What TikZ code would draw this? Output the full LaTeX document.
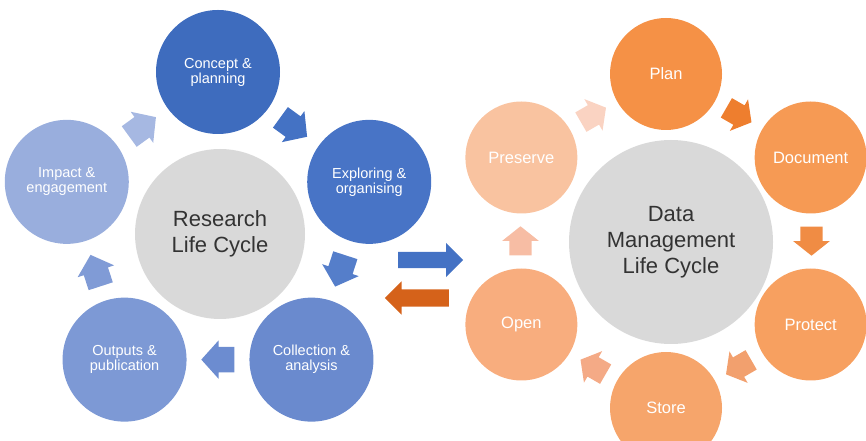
\documentclass[tikz,border=0pt]{standalone}
\usepackage{fontspec}
\setmainfont{Liberation Sans}
\usetikzlibrary{shapes.arrows}

\definecolor{hubgray}{HTML}{D9D9D9}
\definecolor{hubtext}{HTML}{333333}
% research cycle blues
\definecolor{rb1}{HTML}{3E6CBE}
\definecolor{rb2}{HTML}{4874C6}
\definecolor{rb3}{HTML}{6A8ACE}
\definecolor{rb4}{HTML}{7D99D5}
\definecolor{rb5}{HTML}{99AEDD}
\definecolor{ra1}{HTML}{4472C4}
\definecolor{ra2}{HTML}{557ECA}
\definecolor{ra3}{HTML}{6C8CD0}
\definecolor{ra4}{HTML}{809BD6}
\definecolor{ra5}{HTML}{A6B8E2}
% data management oranges
\definecolor{do1}{HTML}{F59146}
\definecolor{do2}{HTML}{F69A54}
\definecolor{do3}{HTML}{F7A060}
\definecolor{do4}{HTML}{F6A56B}
\definecolor{do5}{HTML}{F8AD7E}
\definecolor{do6}{HTML}{F9C3A0}
\definecolor{da1}{HTML}{EE7E2E}
\definecolor{da2}{HTML}{F08C44}
\definecolor{da3}{HTML}{F2A06E}
\definecolor{da4}{HTML}{F4AA86}
\definecolor{da5}{HTML}{F7BDA4}
\definecolor{da6}{HTML}{FAD3C2}
\definecolor{swapblue}{HTML}{4472C4}
\definecolor{swaporange}{HTML}{D5621A}

\tikzset{
  hub/.style={circle, fill=hubgray, text=hubtext, align=center, inner sep=0pt,
    font=\fontsize{22}{26}\selectfont},
  stage/.style={circle, text=white, align=center, inner sep=0pt},
  rlcarrow/.style={single arrow, anchor=tail, inner xsep=0pt, inner ysep=12.5pt,
    minimum height=33pt, minimum width=38pt, single arrow head extend=6.5pt,
    single arrow tip angle=96},
  dmcarrow/.style={single arrow, anchor=tail, inner xsep=0pt, inner ysep=11pt,
    minimum height=29pt, minimum width=36pt, single arrow head extend=7pt,
    single arrow tip angle=103},
}

\begin{document}
\begin{tikzpicture}[x=1pt, y=1pt]
  \useasboundingbox (0,0) rectangle (866,441);

  % Cycle centres
  \coordinate (L) at (218,210);
  \coordinate (R) at (666,200);

  % Research Life Cycle
  \node[hub, minimum size=170pt] (RLC) at (220,207) {Research\\Life Cycle};

  \foreach \a/\c/\t [count=\i] in {90/rb1/{Concept \&\\planning},
      18/rb2/{Exploring \&\\organising}, -54/rb3/{Collection \&\\analysis},
      -126/rb4/{Outputs \&\\publication}, -198/rb5/{Impact \&\\engagement}}
    \node[stage, fill=\c, minimum size=124pt, font=\fontsize{14.5}{15}\selectfont]
      (RS-\i) at ([shift={(\a:159)}]L) {\t};

  \foreach \a/\c [count=\i] in {54/ra1, -18/ra2, -90/ra3, -162/ra4, 126/ra5}
    \node[rlcarrow, fill=\c, rotate=\a-90]
      (RA-\i) at ([shift={(\a:128.6)}, shift={({\a+90}:16.5)}]L) {};

  % Data Management Life Cycle
  \node[hub, minimum size=204pt] (DMC) at (671,199) {Data\\Management\\Life Cycle};

  \foreach \a/\c/\t [count=\i] in {90/do1/Plan, 30/do2/Document, -30/do3/Protect,
      -90/do4/Store, -150/do5/Open, -210/do6/Preserve}
    \node[stage, fill=\c, minimum size=112pt, font=\fontsize{16.5}{18}\selectfont]
      (DS-\i) at ([shift={(\a:167)}]R) {\t};

  \foreach \a/\c [count=\i] in {60/da1, 0/da2, -60/da3, -120/da4, -180/da5, 120/da6}
    \node[dmcarrow, fill=\c, rotate=\a-90]
      (DA-\i) at ([shift={(\a:145.5)}, shift={({\a+90}:14.5)}]R) {};

  % Arrows between the two cycles
  \node[single arrow, fill=swapblue, inner xsep=0pt, inner ysep=8pt, minimum height=65pt,
    minimum width=34pt, single arrow head extend=9pt, anchor=tail] (toDMC) at (398,181) {};
  \node[single arrow, fill=swaporange, inner xsep=0pt, inner ysep=8.5pt, minimum height=64pt,
    minimum width=33pt, single arrow head extend=8pt, anchor=tail, rotate=180] (toRLC) at (449,143) {};

\end{tikzpicture}
\end{document}
